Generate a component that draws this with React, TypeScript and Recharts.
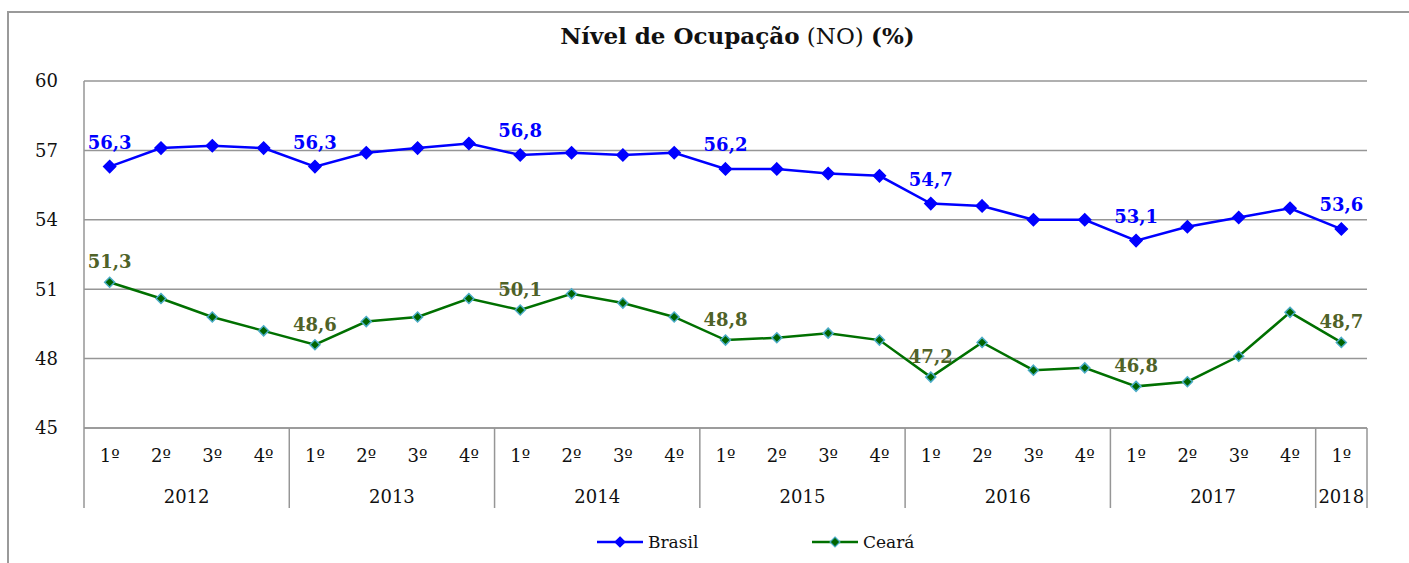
import React from "react";
import { LineChart, Line, XAxis, YAxis, CartesianGrid } from "recharts";

const years = ["2012", "2013", "2014", "2015", "2016", "2017", "2018"];
const quarters = ["1º", "2º", "3º", "4º"];
const brasil = [56.3, 57.1, 57.2, 57.1, 56.3, 56.9, 57.1, 57.3, 56.8, 56.9, 56.8, 56.9, 56.2, 56.2, 56.0, 55.9, 54.7, 54.6, 54.0, 54.0, 53.1, 53.7, 54.1, 54.5, 53.6];
const ceara = [51.3, 50.6, 49.8, 49.2, 48.6, 49.6, 49.8, 50.6, 50.1, 50.8, 50.4, 49.8, 48.8, 48.9, 49.1, 48.8, 47.2, 48.7, 47.5, 47.6, 46.8, 47.0, 48.1, 50.0, 48.7];
const yTicks = [45, 48, 51, 54, 57, 60];
const labelIdx = [0, 4, 8, 12, 16, 20, 24];

const data = brasil.map((b, i) => ({
  key: i,
  year: years[Math.floor(i / 4)],
  q: quarters[i % 4],
  brasil: b,
  ceara: ceara[i],
}));

const W = 1409;
const H = 563;
const M = { top: 81, right: 42, bottom: 55, left: 0 };
const Y_W = 84;
const X_H = 80;
const BAND = (W - M.left - M.right - Y_W) / data.length;
const FONT = "'DejaVu Serif', serif";
const GRID = "#969696";

const BLUE = "#0000ff";
const GREEN = "#007000";
const OLIVE = "#4f6228";

const fmt = (v: number) => v.toFixed(1).replace(".", ",");

const yearCount = (y: string) => data.filter((d) => d.year === y).length;

function XTick(props: any) {
  const { x, y, payload } = props;
  const i = payload.index;
  const d = data[i];
  const first = i % 4 === 0;
  const left = x - BAND / 2;
  return (
    <g>
      <text x={x} y={y + 34} textAnchor="middle" fontFamily={FONT} fontSize={18} fill="#111">
        {d.q}
      </text>
      {first && (
        <>
          <line x1={left} x2={left} y1={y} y2={y + 80} stroke={GRID} strokeWidth={1.5} />
          <text
            x={left + (yearCount(d.year) * BAND) / 2}
            y={y + 75}
            textAnchor="middle"
            fontFamily={FONT}
            fontSize={18}
            fill="#111"
          >
            {d.year}
          </text>
        </>
      )}
      {i === data.length - 1 && (
        <line x1={x + BAND / 2} x2={x + BAND / 2} y1={y} y2={y + 80} stroke={GRID} strokeWidth={1.5} />
      )}
    </g>
  );
}

const diamond = (fill: string, stroke: string, r: number) => (p: any) => {
  const { cx, cy, index } = p;
  if (cx == null || cy == null) return <g key={index} />;
  return (
    <path
      key={index}
      d={`M${cx},${cy - r}L${cx + r},${cy}L${cx},${cy + r}L${cx - r},${cy}Z`}
      fill={fill}
      stroke={stroke}
      strokeWidth={1.5}
    />
  );
};

const valueLabel = (color: string, dy: number) => (p: any) => {
  const { x, y, value, index } = p;
  if (!labelIdx.includes(index)) return <g key={index} />;
  return (
    <text
      key={index}
      x={x}
      y={y - dy}
      textAnchor="middle"
      fontFamily={FONT}
      fontWeight="bold"
      fontSize={18}
      fill={color}
    >
      {fmt(value)}
    </text>
  );
};

const legendItems = [
  { name: "Brasil", color: BLUE, fill: BLUE, stroke: BLUE, left: 597 },
  { name: "Ceará", color: GREEN, fill: "#006400", stroke: "#4bacc6", left: 812 },
];

export default function App() {
  return (
    <div style={{ position: "absolute", left: 0, top: 0, width: W, height: H, background: "#fff", overflow: "hidden" }}>
      <div
        style={{
          position: "absolute",
          left: 7,
          top: 11,
          width: W - 7,
          height: H - 11,
          borderTop: "2px solid #9a9a9a",
          borderLeft: "2px solid #9a9a9a",
          boxSizing: "border-box",
        }}
      />
      <div
        style={{
          position: "absolute",
          left: 0,
          width: W,
          top: 22,
          paddingLeft: 66,
          boxSizing: "border-box",
          textAlign: "center",
          fontFamily: FONT,
          fontSize: 23,
          color: "#111",
        }}
      >
        <b>Nível de Ocupação</b> (NO) <b>(%)</b>
      </div>
      <div style={{ position: "absolute", left: 0, top: 0 }}>
        <LineChart width={W} height={H} data={data} margin={M}>
          <CartesianGrid vertical={false} stroke={GRID} strokeWidth={1.5} />
          <XAxis
            dataKey="key"
            scale="band"
            interval={0}
            height={X_H}
            tickSize={0}
            tickMargin={0}
            tickLine={false}
            axisLine={{ stroke: GRID, strokeWidth: 1.5 }}
            tick={<XTick />}
          />
          <YAxis
            domain={[45, 60]}
            ticks={yTicks}
            width={Y_W}
            tickLine={false}
            tickMargin={20}
            axisLine={{ stroke: GRID, strokeWidth: 1.5 }}
            tick={{ fontFamily: FONT, fontSize: 18, fill: "#111" }}
          />
          <Line
            dataKey="brasil"
            stroke={BLUE}
            strokeWidth={2.5}
            isAnimationActive={false}
            dot={diamond(BLUE, BLUE, 6)}
            label={valueLabel(BLUE, 18)}
          />
          <Line
            dataKey="ceara"
            stroke={GREEN}
            strokeWidth={2.5}
            isAnimationActive={false}
            dot={diamond("#006400", "#4bacc6", 5)}
            label={valueLabel(OLIVE, 14)}
          />
        </LineChart>
      </div>
      {legendItems.map((it) => (
        <div
          key={it.name}
          style={{ position: "absolute", left: it.left, top: 530, height: 24, display: "flex", alignItems: "center" }}
        >
          <svg width={46} height={14}>
            <line x1={0} x2={46} y1={7} y2={7} stroke={it.color} strokeWidth={2.5} />
            <path d="M23,2L28,7L23,12L18,7Z" fill={it.fill} stroke={it.stroke} strokeWidth={1.2} />
          </svg>
          <span style={{ marginLeft: 5, fontFamily: FONT, fontSize: 17, color: "#111" }}>{it.name}</span>
        </div>
      ))}
    </div>
  );
}
